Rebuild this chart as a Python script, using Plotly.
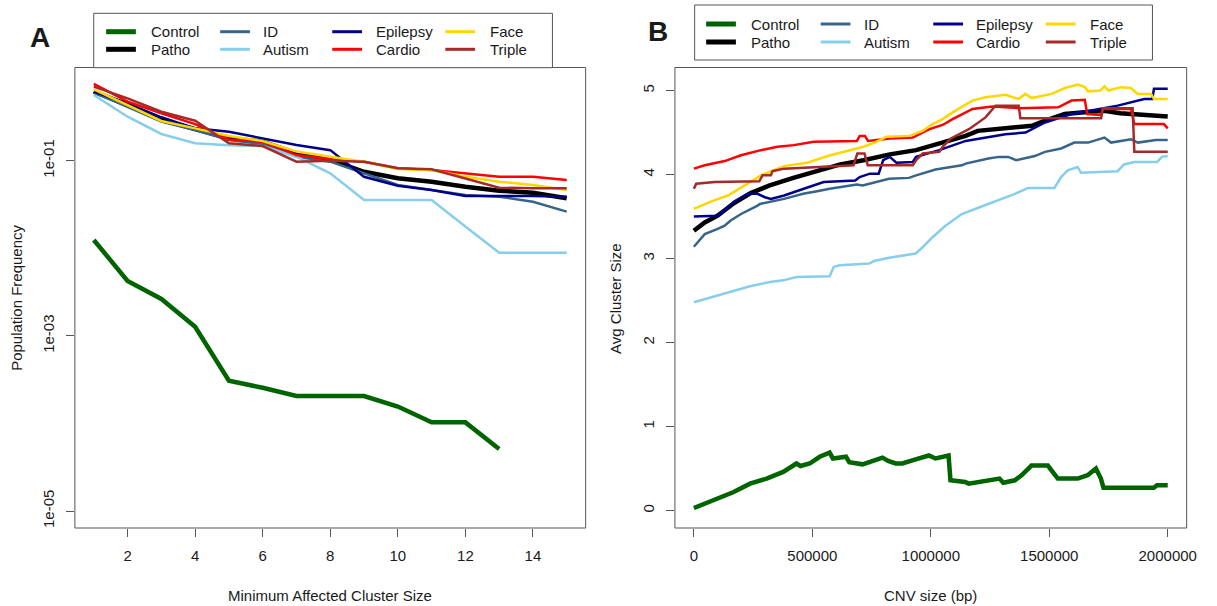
import plotly.graph_objects as go

W, H = 1217, 606

# ---------------- data ----------------
series_names = ["Control", "Patho", "ID", "Autism", "Epilepsy", "Cardio", "Face", "Triple"]
series_colors = ["#006400", "#000000", "#36648B", "#87CEEB", "#00008B", "#FF0000", "#FFD700", "#A52A2A"]
thick = {"Control", "Patho"}

# Panel A: population frequency vs minimum affected cluster size
cluster_size = list(range(1, 16))
freq_control = [0.01245, 0.00424, 0.00264, 0.00127, 0.000308, 0.000256, 0.000206, 0.000206,
                0.000206, 0.000156, 0.000103, 0.000103, 0.0000512]
freq_patho = [0.614, 0.433, 0.292, 0.230, 0.180, 0.165, 0.121, 0.102, 0.0748, 0.0630, 0.0575,
              0.0505, 0.0455, 0.0431, 0.0372]
freq_id = [0.604, 0.413, 0.279, 0.224, 0.172, 0.155, 0.111, 0.0975, 0.0718, 0.0528, 0.0463,
           0.0406, 0.0388, 0.0340, 0.0262]
freq_autism = [0.562, 0.318, 0.202, 0.158, 0.150, 0.147, 0.111, 0.0718, 0.0356, 0.0356, 0.0356,
               0.0177, 0.0089, 0.0089, 0.0089]
freq_epilepsy = [0.614, 0.452, 0.313, 0.234, 0.214, 0.180, 0.151, 0.132, 0.0656, 0.0519, 0.0463,
                 0.0396, 0.0396, 0.0396, 0.0388]
freq_cardio = [0.752, 0.472, 0.348, 0.262, 0.175, 0.165, 0.116, 0.104, 0.0975, 0.0818, 0.0783,
               0.0718, 0.0656, 0.0656, 0.0603]
freq_face = [0.653, 0.433, 0.284, 0.234, 0.191, 0.168, 0.127, 0.111, 0.0975, 0.0804, 0.0783,
             0.0656, 0.0575, 0.0528, 0.0463]
freq_triple = [0.700, 0.515, 0.362, 0.286, 0.158, 0.147, 0.0975, 0.100, 0.0975, 0.0818, 0.0798,
               0.0630, 0.0492, 0.0484, 0.0484]
freq_A = [freq_control, freq_patho, freq_id, freq_autism, freq_epilepsy, freq_cardio, freq_face, freq_triple]

# Panel B: average cluster size vs CNV size (bp)
bp_control = [0, 98e3, 168e3, 237e3, 307e3, 377e3, 433e3, 450e3, 489e3, 531e3, 573e3, 587e3, 642e3,
              656e3, 712e3, 796e3, 820e3, 852e3, 880e3, 936e3, 992e3, 1020e3, 1075e3, 1083e3, 1145e3,
              1160e3, 1271e3, 1290e3, 1306e3, 1355e3, 1383e3, 1425e3, 1494e3, 1515e3, 1536e3, 1620e3,
              1662e3, 1697e3, 1718e3, 1729e3, 1941e3, 1955e3, 2000e3]
avg_control = [0.03, 0.14, 0.22, 0.32, 0.38, 0.46, 0.56, 0.53, 0.56, 0.64, 0.69, 0.62, 0.64, 0.575,
               0.55, 0.63, 0.59, 0.56, 0.56, 0.61, 0.655, 0.62, 0.655, 0.36, 0.34, 0.32, 0.36, 0.38,
               0.33, 0.36, 0.42, 0.535, 0.535, 0.46, 0.38, 0.38, 0.42, 0.50, 0.38, 0.27, 0.27, 0.30, 0.30]
bp_patho = [0, 46e3, 100e3, 170e3, 240e3, 320e3, 420e3, 520e3, 618e3, 716e3, 827e3, 938e3, 1036e3,
            1076e3, 1147e3, 1198e3, 1290e3, 1340e3, 1427e3, 1480e3, 1565e3, 1649e3, 1732e3, 1800e3,
            1845e3, 1920e3, 2000e3]
avg_patho = [3.33, 3.43, 3.51, 3.66, 3.78, 3.87, 3.96, 4.04, 4.12, 4.17, 4.24, 4.29, 4.37, 4.39, 4.46,
             4.52, 4.54, 4.56, 4.58, 4.64, 4.72, 4.74, 4.76, 4.73, 4.72, 4.70, 4.69]
bp_id = [0, 46e3, 98e3, 130e3, 154e3, 199e3, 269e3, 279e3, 381e3, 461e3, 520e3, 573e3, 688e3, 712e3,
         824e3, 908e3, 938e3, 1020e3, 1131e3, 1147e3, 1243e3, 1287e3, 1327e3, 1360e3, 1439e3, 1482e3,
         1550e3, 1594e3, 1606e3, 1664e3, 1733e3, 1761e3, 1845e3, 1874e3, 1950e3, 2000e3]
avg_id = [3.14, 3.29, 3.35, 3.39, 3.45, 3.53, 3.63, 3.65, 3.71, 3.77, 3.80, 3.83, 3.88, 3.87, 3.95,
          3.96, 3.99, 4.06, 4.11, 4.13, 4.19, 4.21, 4.21, 4.17, 4.22, 4.27, 4.31, 4.36, 4.38, 4.38,
          4.44, 4.38, 4.42, 4.38, 4.41, 4.41]
bp_autism = [0, 98e3, 168e3, 237e3, 321e3, 377e3, 433e3, 573e3, 590e3, 615e3, 740e3, 760e3, 824e3,
             936e3, 964e3, 1006e3, 1062e3, 1131e3, 1187e3, 1243e3, 1299e3, 1355e3, 1411e3, 1522e3,
             1550e3, 1578e3, 1620e3, 1634e3, 1788e3, 1816e3, 1858e3, 1955e3, 1976e3, 2000e3]
avg_autism = [2.48, 2.56, 2.62, 2.67, 2.72, 2.74, 2.78, 2.79, 2.90, 2.92, 2.94, 2.97, 3.01, 3.06, 3.13,
              3.25, 3.39, 3.53, 3.59, 3.65, 3.71, 3.77, 3.84, 3.84, 3.97, 4.05, 4.09, 4.02, 4.04, 4.12,
              4.15, 4.15, 4.21, 4.22]
bp_epilepsy = [0, 102e3, 171e3, 227e3, 269e3, 300e3, 325e3, 381e3, 464e3, 548e3, 681e3, 700e3, 743e3,
               780e3, 799e3, 827e3, 855e3, 924e3, 938e3, 1036e3, 1147e3, 1315e3, 1400e3, 1482e3,
               1594e3, 1705e3, 1789e3, 1901e3, 1935e3, 1942e3, 2000e3]
avg_epilepsy = [3.50, 3.51, 3.68, 3.77, 3.77, 3.73, 3.71, 3.75, 3.83, 3.91, 3.93, 3.97, 4.01, 4.01,
                4.17, 4.21, 4.14, 4.15, 4.21, 4.29, 4.40, 4.48, 4.50, 4.62, 4.72, 4.78, 4.82, 4.90,
                4.90, 5.02, 5.02]
bp_cardio = [0, 46e3, 130e3, 199e3, 283e3, 353e3, 422e3, 506e3, 688e3, 700e3, 722e3, 735e3, 827e3,
             924e3, 994e3, 1050e3, 1092e3, 1176e3, 1259e3, 1371e3, 1538e3, 1594e3, 1650e3, 1660e3,
             1719e3, 1726e3, 1845e3, 1859e3, 1984e3, 2000e3]
avg_cardio = [4.07, 4.11, 4.16, 4.23, 4.29, 4.33, 4.35, 4.39, 4.40, 4.46, 4.46, 4.40, 4.43, 4.44, 4.54,
              4.59, 4.66, 4.78, 4.81, 4.79, 4.80, 4.88, 4.89, 4.72, 4.71, 4.78, 4.78, 4.60, 4.60, 4.55]
bp_face = [0, 74e3, 144e3, 213e3, 283e3, 381e3, 478e3, 576e3, 716e3, 771e3, 813e3, 910e3, 966e3,
           1008e3, 1050e3, 1092e3, 1176e3, 1231e3, 1315e3, 1371e3, 1399e3, 1426e3, 1510e3, 1566e3,
           1622e3, 1650e3, 1664e3, 1715e3, 1733e3, 1750e3, 1803e3, 1845e3, 1873e3, 1930e3, 1942e3, 2000e3]
avg_face = [3.59, 3.68, 3.75, 3.87, 3.99, 4.10, 4.14, 4.23, 4.33, 4.39, 4.45, 4.46, 4.52, 4.60, 4.66,
            4.74, 4.88, 4.92, 4.95, 4.90, 4.96, 4.91, 4.96, 5.03, 5.07, 5.04, 4.99, 5.00, 5.05, 5.00,
            5.04, 5.03, 4.96, 4.96, 4.90, 4.90]
bp_triple = [0, 10e3, 88e3, 276e3, 290e3, 325e3, 332e3, 381e3, 674e3, 690e3, 720e3, 734e3, 924e3,
             938e3, 966e3, 1036e3, 1050e3, 1085e3, 1161e3, 1231e3, 1273e3, 1371e3, 1378e3, 1719e3,
             1726e3, 1852e3, 1859e3, 2000e3]
avg_triple = [3.83, 3.89, 3.91, 3.92, 3.99, 3.99, 4.04, 4.07, 4.11, 4.25, 4.25, 4.11, 4.11, 4.17, 4.25,
              4.27, 4.33, 4.43, 4.54, 4.68, 4.82, 4.82, 4.67, 4.67, 4.79, 4.79, 4.27, 4.27]
bp_B = [bp_control, bp_patho, bp_id, bp_autism, bp_epilepsy, bp_cardio, bp_face, bp_triple]
avg_B = [avg_control, avg_patho, avg_id, avg_autism, avg_epilepsy, avg_cardio, avg_face, avg_triple]

xticks_A = [2, 4, 6, 8, 10, 12, 14]
yticks_A = [1e-5, 1e-3, 1e-1]
yticklabels_A = ["1e-05", "1e-03", "1e-01"]
xticks_B = [0, 500000, 1000000, 1500000, 2000000]
xticklabels_B = ["0", "500000", "1000000", "1500000", "2000000"]
yticks_B = [0, 1, 2, 3, 4, 5]

# ---------------- figure ----------------
FONT = "Liberation Sans, Arial, sans-serif"
TXT = "#1a1a1a"
AX = "#555555"

def px(x):
    return x / W

def py(y):
    return 1 - y / H

fig = go.Figure()
for name, color, ys in zip(series_names, series_colors, freq_A):
    fig.add_trace(go.Scatter(x=cluster_size[:len(ys)], y=ys, mode="lines", name=name,
                             line=dict(color=color, width=4.5 if name in thick else 2.5),
                             xaxis="x", yaxis="y", showlegend=False, hoverinfo="skip"))
for name, color, xs, ys in zip(series_names, series_colors, bp_B, avg_B):
    fig.add_trace(go.Scatter(x=xs, y=ys, mode="lines", name=name,
                             line=dict(color=color, width=4.5 if name in thick else 2.5),
                             xaxis="x2", yaxis="y2", showlegend=False, hoverinfo="skip"))

ydom = [py(528), py(67.5)]
common = dict(showgrid=False, zeroline=False, showline=False, ticks="outside", ticklen=8,
              tickwidth=1, tickcolor=AX, tickfont=dict(family=FONT, size=15, color=TXT))
fig.update_layout(
    width=W, height=H, margin=dict(l=0, r=0, t=0, b=0),
    paper_bgcolor="white", plot_bgcolor="white",
    xaxis=dict(domain=[px(75.5), px(590.5)], range=[0.44, 15.56], tickmode="array",
               tickvals=xticks_A, anchor="y", ticklabelstandoff=6, **common),
    yaxis=dict(domain=ydom, type="log", range=[-5.193, 0.064], tickmode="array",
               tickvals=yticks_A, ticktext=yticklabels_A, tickangle=-90, anchor="x",
               ticklabelstandoff=6, **common),
    xaxis2=dict(domain=[px(680.5), px(1196.5)], range=[-80000, 2080000], tickmode="array",
                tickvals=xticks_B, ticktext=xticklabels_B, anchor="y2", ticklabelstandoff=6, **common),
    yaxis2=dict(domain=ydom, range=[-0.208, 5.274], tickmode="array", tickvals=yticks_B,
                tickangle=-90, anchor="x2", ticklabelstandoff=6, **common),
)

shapes = []
annotations = []
# plot boxes
for xr, yr in (("x", "y"), ("x2", "y2")):
    shapes.append(dict(type="rect", xref=f"{xr} domain", yref=f"{yr} domain", x0=0, x1=1, y0=0, y1=1,
                       line=dict(color=AX, width=1), fillcolor="rgba(0,0,0,0)", layer="above"))

def add_text(x, y, text, size=15, xanchor="center", angle=0, bold=False):
    annotations.append(dict(x=px(x), y=py(y), xref="paper", yref="paper", text=f"<b>{text}</b>" if bold else text,
                            showarrow=False, xanchor=xanchor, yanchor="middle", textangle=angle,
                            font=dict(family=FONT, size=size, color=TXT)))

# axis titles
add_text(333, 595, "Minimum Affected Cluster Size")
add_text(16, 298, "Population Frequency", angle=-90)
add_text(938.5, 595, "CNV size (bp)")
add_text(620, 298, "Avg Cluster Size", angle=-90)
# panel letters
add_text(40, 38, "A", size=28, bold=True)
add_text(663, 31, "B", size=28, bold=True)

# legends (column-major order like the original)
def legend(box, cols_line, cols_text, rows):
    x0, x1, y0, y1 = box
    shapes.append(dict(type="rect", xref="paper", yref="paper", x0=px(x0), x1=px(x1), y0=py(y1), y1=py(y0),
                       line=dict(color=AX, width=1), fillcolor="white", layer="above"))
    for i, (name, color) in enumerate(zip(series_names, series_colors)):
        c, r = divmod(i, 2)
        lx = cols_line[c]
        shapes.append(dict(type="line", xref="paper", yref="paper", x0=px(lx), x1=px(lx + 30),
                           y0=py(rows[r]), y1=py(rows[r]), layer="above",
                           line=dict(color=color, width=5 if name in thick else 3)))
        add_text(cols_text[c], rows[r], name, xanchor="left")

legend((94.5, 557, 13.3, 67.7), [107, 222, 335, 449], [150, 263, 377, 492], [31.7, 49.3])
legend((700.4, 1162, 5, 60), [712, 827.5, 941, 1054.5], [755.5, 869, 982, 1097], [24, 42])

fig.update_layout(shapes=shapes, annotations=annotations)
fig.write_html("out.html")
